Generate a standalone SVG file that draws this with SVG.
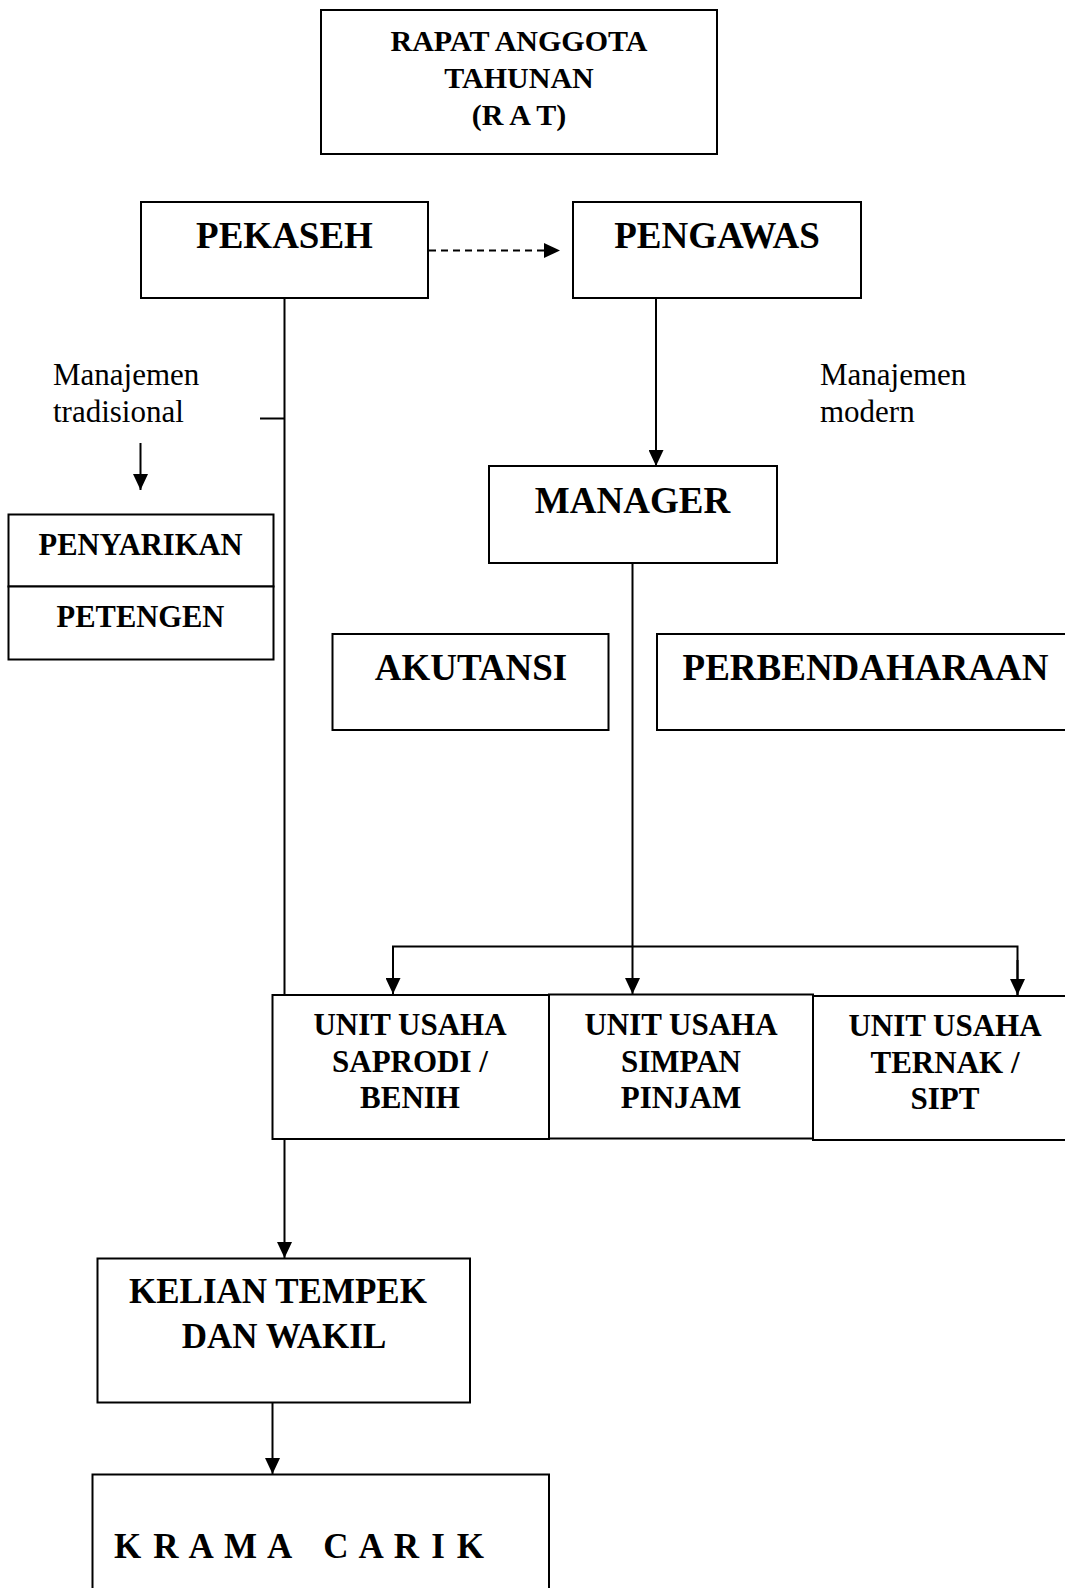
<svg xmlns="http://www.w3.org/2000/svg" width="1065" height="1588" viewBox="0 0 1065 1588">
<defs>
<style>
.box{fill:#fff;stroke:#000;stroke-width:2}
.ln{fill:none;stroke:#000;stroke-width:2}
.b{font-family:"Liberation Serif","Times New Roman",serif;font-weight:bold;fill:#000;text-anchor:middle}
.r{font-family:"Liberation Serif","Times New Roman",serif;fill:#000}
</style>
<marker id="ah" markerUnits="userSpaceOnUse" markerWidth="16" markerHeight="15" refX="16" refY="7.5" orient="auto">
<path d="M0,0 L16,7.5 L0,15 z" fill="#000"/>
</marker>
</defs>
<rect width="1065" height="1588" fill="#fff"/>

<g id="connectors">
<line class="ln" x1="429" y1="250.5" x2="560" y2="250.5" stroke-dasharray="7,5" marker-end="url(#ah)"/>
<line class="ln" x1="284.5" y1="298" x2="284.5" y2="995"/>
<line class="ln" x1="284.5" y1="1139" x2="284.5" y2="1258" marker-end="url(#ah)"/>
<line class="ln" x1="260" y1="418.5" x2="284.5" y2="418.5"/>
<line class="ln" x1="140.5" y1="443" x2="140.5" y2="490" marker-end="url(#ah)"/>
<line class="ln" x1="656" y1="298" x2="656" y2="466" marker-end="url(#ah)"/>
<line class="ln" x1="632.5" y1="563" x2="632.5" y2="994" marker-end="url(#ah)"/>
<path class="ln" d="M393,994 V946.5 H1017.5 V995"/>
<line class="ln" x1="393" y1="960" x2="393" y2="994" marker-end="url(#ah)"/>
<line class="ln" x1="1017.5" y1="960" x2="1017.5" y2="995" marker-end="url(#ah)"/>
<line class="ln" x1="272.5" y1="1403" x2="272.5" y2="1474" marker-end="url(#ah)"/>
</g>

<g id="rat">
<rect class="box" x="321" y="10" width="396" height="144"/>
<text class="b" font-size="30" x="519" y="51">RAPAT ANGGOTA</text>
<text class="b" font-size="30" x="519" y="88">TAHUNAN</text>
<text class="b" font-size="30" x="519" y="125">(R A T)</text>
</g>

<g id="pekaseh">
<rect class="box" x="141" y="202" width="287" height="96"/>
<text class="b" font-size="37" x="284.5" y="248">PEKASEH</text>
</g>

<g id="pengawas">
<rect class="box" x="573" y="202" width="288" height="96"/>
<text class="b" font-size="37" x="717" y="248">PENGAWAS</text>
</g>

<g id="label-tradisional">
<text class="r" font-size="31" x="53" y="385">Manajemen</text>
<text class="r" font-size="31" x="53" y="422">tradisional</text>
</g>

<g id="label-modern">
<text class="r" font-size="31" x="820" y="385">Manajemen</text>
<text class="r" font-size="31" x="820" y="422">modern</text>
</g>

<g id="manager">
<rect class="box" x="489" y="466" width="288" height="97"/>
<text class="b" font-size="37" x="632.5" y="513">MANAGER</text>
</g>

<g id="penyarikan">
<rect class="box" x="8.5" y="514.5" width="265" height="72"/>
<text class="b" font-size="30.5" x="140.5" y="555">PENYARIKAN</text>
</g>

<g id="petengen">
<rect class="box" x="8.5" y="586.5" width="265" height="73"/>
<text class="b" font-size="30.5" x="140.5" y="627">PETENGEN</text>
</g>

<g id="akutansi">
<rect class="box" x="332.5" y="634" width="276" height="96"/>
<text class="b" font-size="37" x="471" y="680">AKUTANSI</text>
</g>

<g id="perbendaharaan">
<rect class="box" x="657" y="634" width="420" height="96"/>
<text class="b" font-size="37" x="865.5" y="680">PERBENDAHARAAN</text>
</g>

<g id="unit-saprodi">
<rect class="box" x="272.5" y="995" width="276.5" height="144"/>
<text class="b" font-size="31" x="410" y="1035">UNIT USAHA</text>
<text class="b" font-size="31" x="410" y="1072">SAPRODI /</text>
<text class="b" font-size="31" x="410" y="1108">BENIH</text>
</g>

<g id="unit-simpan">
<rect class="box" x="549" y="994.5" width="264" height="144"/>
<text class="b" font-size="31" x="681" y="1035">UNIT USAHA</text>
<text class="b" font-size="31" x="681" y="1072">SIMPAN</text>
<text class="b" font-size="31" x="681" y="1108">PINJAM</text>
</g>

<g id="unit-ternak">
<rect class="box" x="813" y="996" width="264" height="144"/>
<text class="b" font-size="31" x="945" y="1036">UNIT USAHA</text>
<text class="b" font-size="31" x="945" y="1073">TERNAK /</text>
<text class="b" font-size="31" x="945" y="1109">SIPT</text>
</g>

<g id="kelian">
<rect class="box" x="97.5" y="1258.5" width="372.5" height="144"/>
<text class="b" font-size="35" x="278" y="1303">KELIAN TEMPEK</text>
<text class="b" font-size="35" x="284" y="1348">DAN WAKIL</text>
</g>

<g id="krama">
<rect class="box" x="92.5" y="1474.5" width="456.5" height="130"/>
<text class="b" font-size="35" x="114" y="1557.5" style="text-anchor:start;white-space:pre" textLength="370" lengthAdjust="spacing">K R A M A   C A R I K</text>
</g>
</svg>
